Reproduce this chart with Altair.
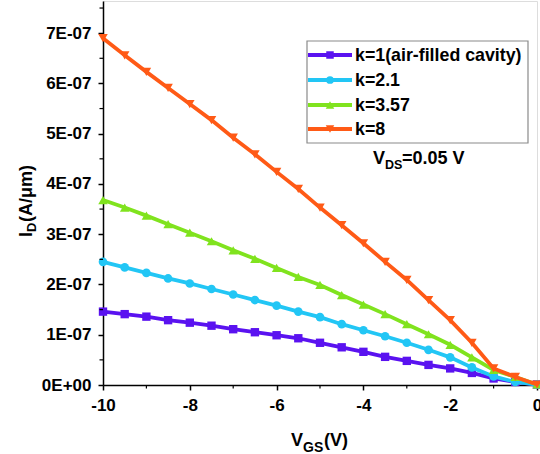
import altair as alt
import pandas as pd

# Gate voltage sweep (V)
vgs = [-10.0, -9.5, -9.0, -8.5, -8.0, -7.5, -7.0, -6.5, -6.0, -5.5, -5.0,
       -4.5, -4.0, -3.5, -3.0, -2.5, -2.0, -1.5, -1.0, -0.5, 0.0]

# Drain current (units of 1E-07 A/um) for each cavity dielectric constant
id_k1 = [1.46, 1.41, 1.36, 1.29, 1.24, 1.18, 1.11, 1.05, 0.99, 0.93, 0.84,
         0.75, 0.66, 0.56, 0.48, 0.40, 0.33, 0.24, 0.13, 0.06, 0.01]
id_k21 = [2.45, 2.34, 2.23, 2.12, 2.02, 1.91, 1.80, 1.69, 1.58, 1.46, 1.35,
          1.21, 1.09, 0.97, 0.84, 0.70, 0.55, 0.35, 0.17, 0.06, 0.01]
id_k357 = [3.68, 3.53, 3.37, 3.20, 3.03, 2.86, 2.68, 2.51, 2.33, 2.15, 1.99,
           1.79, 1.60, 1.41, 1.21, 1.01, 0.80, 0.55, 0.30, 0.16, 0.01]
id_k8 = [6.90, 6.56, 6.23, 5.91, 5.59, 5.27, 4.92, 4.59, 4.24, 3.90, 3.53,
         3.18, 2.82, 2.45, 2.09, 1.69, 1.29, 0.84, 0.33, 0.16, 0.01]
scale_e7 = 1e-7

series_names = ["k=1(air-filled cavity)", "k=2.1", "k=3.57", "k=8"]
series_values = [id_k1, id_k21, id_k357, id_k8]
series_colors = ["#5A12F0", "#22C6F5", "#80E31E", "#FF5A16"]
series_shapes = ["square", "circle", "triangle-up", "triangle-down"]
series_sizes = [70, 75, 90, 90]

y_major = [i * scale_e7 for i in range(8)]
y_minor = [(i + 0.5) * scale_e7 for i in range(8)]
x_major = [-10, -8, -6, -4, -2, 0]
x_minor = [-9, -7, -5, -3, -1]

FONT = "Liberation Sans"
W, H = 434, 384

xscale = alt.Scale(domain=[-10, 0], nice=False, zero=False)
yscale = alt.Scale(domain=[0, 7.64e-7], nice=False, zero=False)

x_axis = alt.Axis(values=x_major, title=None, grid=False,
                  labelExpr="'' + round(datum.value)",
                  labelFont=FONT, labelFontWeight="bold", labelFontSize=17,
                  labelColor="black", tickColor="black", tickSize=5, tickWidth=1.5,
                  domainColor="black", domainWidth=1.5, labelPadding=7,
                  labelFlush=False, labelOverlap=False)
y_axis = alt.Axis(values=y_major, title=None, grid=False,
                  labelExpr="datum.value < 5e-8 ? '0E+00' : round(datum.value*1e7) + 'E-07'",
                  labelFont=FONT, labelFontWeight="bold", labelFontSize=17,
                  labelColor="black", tickColor="black", tickSize=5, tickWidth=1.5,
                  domainColor="black", domainWidth=1.5, labelPadding=7,
                  labelFlush=False, labelOverlap=False)


def X(field):
    return alt.X(field, scale=xscale, axis=x_axis, title=None)


def Y(field):
    return alt.Y(field, scale=yscale, axis=y_axis, title=None)


layers = []

for name, vals, col, shp, sz in zip(series_names, series_values, series_colors,
                                     series_shapes, series_sizes):
    df = pd.DataFrame({"vgs": vgs, "id": [v * scale_e7 for v in vals], "series": name})
    line = alt.Chart(df).mark_line(color=col, strokeWidth=3.8).encode(x=X("vgs:Q"), y=Y("id:Q"))
    pts = alt.Chart(df).mark_point(color=col, filled=True, opacity=1, size=sz, shape=shp).encode(
        x=X("vgs:Q"), y=Y("id:Q"))
    layers += [line, pts]

# Minor ticks on both axes
layers.append(alt.Chart(pd.DataFrame({"v": y_minor})).mark_rule(color="black", strokeWidth=1.2).encode(
    y=Y("v:Q"), x=alt.value(-3.5), x2=alt.value(0)))
layers.append(alt.Chart(pd.DataFrame({"v": x_minor})).mark_rule(color="black", strokeWidth=1.2).encode(
    x=X("v:Q"), y=alt.value(H), y2=alt.value(H + 3.5)))

one = pd.DataFrame({"a": [0]})

# Legend box
lx0, lx1, ly0, ly1 = 204, 425, 40, 142
layers.append(alt.Chart(one).mark_rect(fill="white", stroke="#8a8a8a", strokeWidth=1.2).encode(
    x=alt.value(lx0), x2=alt.value(lx1), y=alt.value(ly0), y2=alt.value(ly1)))

row_y = [54, 79, 104, 128]
for name, col, shp, sz, ry in zip(series_names, series_colors, series_shapes, series_sizes, row_y):
    layers.append(alt.Chart(one).mark_rule(color=col, strokeWidth=3.8).encode(
        x=alt.value(205), x2=alt.value(249), y=alt.value(ry)))
    layers.append(alt.Chart(one).mark_point(color=col, filled=True, opacity=1, size=sz * 0.8, shape=shp).encode(
        x=alt.value(227), y=alt.value(ry)))
    layers.append(alt.Chart(one).mark_text(text=name, font=FONT, fontWeight="bold", fontSize=17.8,
                                           align="left", baseline="middle", color="black").encode(
        x=alt.value(252), y=alt.value(ry + 1)))


def txt(s, x, y, size, angle=0):
    return alt.Chart(one).mark_text(text=s, font=FONT, fontWeight="bold", fontSize=size,
                                    align="left", baseline="alphabetic", color="black",
                                    angle=angle).encode(x=alt.value(x), y=alt.value(y))


# V_DS annotation
layers += [txt("V", 270, 163, 18), txt("DS", 282, 168, 12.5), txt("=0.05 V", 299, 163, 18)]

# x-axis title: V_GS(V)
layers += [txt("V", 188, 445, 18), txt("GS", 200, 451, 14), txt("(V)", 221, 445, 18)]

# y-axis title: I_D(A/um), rotated
layers += [txt("I", -71, 236, 18, 270), txt("D", -67, 231, 13, 270), txt("(A/\u03bcm)", -71, 221, 18, 270)]

chart = alt.layer(*layers).properties(
    width=W, height=H,
    autosize=alt.AutoSizeParams(type="none"),
    padding={"left": 103, "top": 1, "right": 3, "bottom": 69},
).configure_view(stroke="#c8c8c8", strokeWidth=1).configure(background="white")

chart.save("out.html", embed_options={"renderer": "svg", "actions": False})
